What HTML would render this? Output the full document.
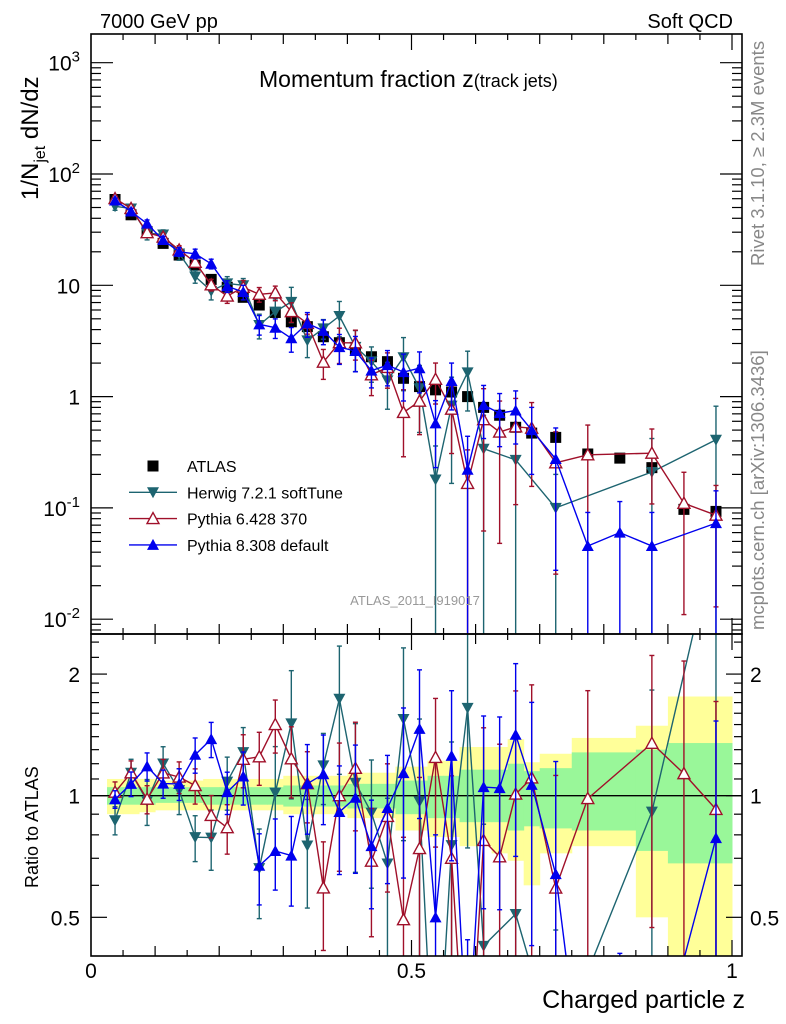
<!DOCTYPE html>
<html><head><meta charset="utf-8">
<style>
html,body{margin:0;padding:0;background:#fff;overflow:hidden;width:786px;height:1024px;}
svg{display:block;font-family:"Liberation Sans",sans-serif;overflow:hidden;}
</style></head>
<body>
<svg id="chart" width="786" height="1024" viewBox="0 0 786 1024" xmlns="http://www.w3.org/2000/svg">
<defs>
<clipPath id="clipMain"><rect x="91" y="34" width="651" height="600"/></clipPath>
<clipPath id="clipRatio"><rect x="91" y="634" width="651" height="322"/></clipPath>
</defs>
<g id="bands" clip-path="url(#clipRatio)"></g>
<g id="marks"></g>
<g id="axes"></g>
<text x="100" y="28" font-size="20">7000 GeV pp</text>
<text x="733" y="28" font-size="20" text-anchor="end">Soft QCD</text>
<text x="259" y="87" font-size="23">Momentum fraction z<tspan font-size="18">(track jets)</tspan></text>
<text transform="translate(38,200) rotate(-90)" font-size="24">1/N<tspan font-size="16" dy="7">jet</tspan><tspan dy="-7"> dN/dz</tspan></text>
<text transform="translate(38,888) rotate(-90)" font-size="18">Ratio to ATLAS</text>
<text x="745" y="1008" font-size="25" text-anchor="end">Charged particle z</text>
<text transform="translate(764,266) rotate(-90)" font-size="18.5" fill="#888">Rivet 3.1.10, ≥ 2.3M events</text>
<text transform="translate(764,630) rotate(-90)" font-size="18.5" fill="#888">mcplots.cern.ch [arXiv:1306.3436]</text>
<text x="415" y="605" font-size="13" fill="#999" text-anchor="middle">ATLAS_2011_I919017</text>
<g id="legend"></g>
</svg>
<script>
// ---- data ----
const binCenters = [0.0375,0.0625,0.0875,0.1125,0.1375,0.1625,0.1875,0.2125,0.2375,0.2625,0.2875,0.3125,0.3375,0.3625,0.3875,0.4125,0.4375,0.4625,0.4875,0.5125,0.5375,0.5625,0.5875,0.6125,0.6375,0.6625,0.6875,0.725,0.775,0.825,0.875,0.925,0.975];
const binLow = [0.025,0.05,0.075,0.1,0.125,0.15,0.175,0.2,0.225,0.25,0.275,0.3,0.325,0.35,0.375,0.4,0.425,0.45,0.475,0.5,0.525,0.55,0.575,0.6,0.625,0.65,0.675,0.7,0.75,0.8,0.85,0.9,0.95];
const binHigh = [0.05,0.075,0.1,0.125,0.15,0.175,0.2,0.225,0.25,0.275,0.3,0.325,0.35,0.375,0.4,0.425,0.45,0.475,0.5,0.525,0.55,0.575,0.6,0.625,0.65,0.675,0.7,0.75,0.8,0.85,0.9,0.95,1.0];
const atlasValues = [59,43,30.3,23.8,18.7,15.2,11.3,9.6,7.8,6.65,5.7,4.7,4.25,3.45,3.05,2.6,2.28,2.06,1.46,1.23,1.15,1.1,1.0,0.80,0.68,0.53,0.47,0.43,0.305,0.28,0.23,0.097,0.093];
const atlasTotUp = [1.10,1.10,1.10,1.09,1.09,1.09,1.10,1.10,1.10,1.10,1.10,1.12,1.12,1.12,1.12,1.14,1.14,1.14,1.18,1.18,1.22,1.22,1.32,1.32,1.32,1.38,1.21,1.27,1.39,1.39,1.49,1.76,1.76];
const atlasTotDown = [0.90,0.90,0.91,0.92,0.92,0.92,0.92,0.92,0.92,0.92,0.92,0.90,0.90,0.90,0.90,0.88,0.88,0.88,0.82,0.82,0.79,0.79,0.75,0.75,0.72,0.69,0.60,0.72,0.75,0.75,0.50,0.30,0.30];
const atlasStatUp = [1.05,1.05,1.05,1.05,1.05,1.05,1.05,1.05,1.05,1.05,1.05,1.06,1.06,1.06,1.06,1.07,1.07,1.07,1.09,1.09,1.12,1.12,1.16,1.16,1.16,1.20,1.15,1.17,1.28,1.28,1.30,1.35,1.35];
const atlasStatDown = [0.95,0.95,0.95,0.96,0.96,0.96,0.95,0.95,0.95,0.95,0.95,0.94,0.94,0.94,0.94,0.93,0.93,0.93,0.90,0.90,0.88,0.88,0.86,0.86,0.86,0.82,0.84,0.83,0.82,0.82,0.73,0.68,0.68];
const herwigValues = [51.3,49,29.4,28.6,19.3,12.0,8.9,10.4,10.0,4.4,5.8,7.1,3.2,4.1,5.3,2.8,2.07,1.4,2.26,1.19,0.18,0.83,1.65,0.34,null,0.27,null,0.10,null,null,0.21,null,0.41];
const herwigRelErr = [0.08,0.08,0.13,0.1,0.13,0.13,0.17,0.15,0.15,0.25,0.3,0.35,0.3,0.2,0.35,0.4,0.35,0.45,0.5,0.6,1.0,0.8,0.55,1.0,1.0,1.0,1.0,1.0,1.0,1.0,1.0,1.0,1.0];
const py6Values = [60.2,49,29.7,27.1,20.8,16.1,10.1,8.0,9.6,8.3,8.55,5.8,4.55,2.04,3.05,3.04,1.57,1.83,0.72,0.91,1.43,0.77,0.166,0.62,0.48,0.535,0.52,0.254,0.30,null,0.31,0.11,0.086];
const py6RelErr = [0.06,0.07,0.08,0.08,0.09,0.1,0.12,0.14,0.15,0.15,0.15,0.2,0.2,0.3,0.35,0.3,0.35,0.35,0.6,0.5,0.4,0.6,1.0,0.9,0.9,0.8,0.7,0.9,0.85,0.85,0.65,0.9,0.85];
const py8Values = [57.8,46,35.8,25.5,20,19.2,15.6,9.8,8.7,4.46,4.16,3.34,4.55,3.9,2.78,2.57,1.71,1.92,1.66,1.8,0.575,1.38,0.22,0.84,0.71,0.75,0.5,0.275,0.0455,0.06,0.0455,null,0.073];
const py8RelErr = [0.05,0.07,0.08,0.08,0.09,0.1,0.1,0.12,0.15,0.2,0.2,0.25,0.25,0.25,0.3,0.35,0.3,0.35,0.45,0.4,0.6,0.45,1,0.5,0.5,0.5,0.6,0.9,1,0.9,1,1,0.95];
const mainTickLabels = ["10^-2","10^-1","1","10","10^2","10^3"];
const ratioTickLabels = ["0.5","1","2"];
const xTickLabels = ["0","0.5","1"];

// ---- axes functions ----
const X0=91, XS=641;
const xs = z => X0 + z*XS;
const ym = v => 396.6 - Math.log10(v)*111.3;
const yr = r => 795.7 - Math.log10(r)*404;
const NS="http://www.w3.org/2000/svg";
function mk(tag, attrs, parent){const e=document.createElementNS(NS,tag);for(const k in attrs)e.setAttribute(k,attrs[k]);parent.appendChild(e);return e;}

const bands=document.getElementById('bands');
const marks=document.getElementById('marks');
const axes=document.getElementById('axes');

binCenters.forEach((c,i)=>{
  const top=Math.max(yr(atlasTotUp[i]),634), bot=Math.min(yr(atlasTotDown[i]),956);
  const y=mk('rect',{x:xs(binLow[i]),y:top,width:xs(binHigh[i])-xs(binLow[i])+0.5,height:bot-top,fill:'#ffff99'},bands);
  
  
});
binCenters.forEach((c,i)=>{
  const top=Math.max(yr(atlasStatUp[i]),634), bot=Math.min(yr(atlasStatDown[i]),956);
  const g=mk('rect',{x:xs(binLow[i]),y:top,width:xs(binHigh[i])-xs(binLow[i])+0.5,height:bot-top,fill:'#99f799'},bands);
  
  
});
const one=mk('line',{x1:91,x2:742,y1:yr(1),y2:yr(1),stroke:'#000','stroke-width':1.3},bands);



function marker(parent,type,x,y,color){
  let e;
  if(type==='square'){e=mk('rect',{x:x-5.5,y:y-5.5,width:11,height:11,fill:'#000'},parent);}
  else if(type==='down'){e=mk('polygon',{points:`${x-6},${y-5} ${x+6},${y-5} ${x},${y+6}`,fill:color},parent);}
  else if(type==='up'){e=mk('polygon',{points:`${x-6},${y+5} ${x+6},${y+5} ${x},${y-6}`,fill:color},parent);}
  else {e=mk('polygon',{points:`${x-6},${y+5} ${x+6},${y+5} ${x},${y-6}`,fill:'#fff',stroke:color,'stroke-width':1.4},parent);}
  return e;
}

// clip a segment to y range [ya,yb]
function clipSeg(p,q,ya,yb){
  let [x1,y1]=p,[x2,y2]=q;
  let t0=0,t1=1;const dy=y2-y1;
  if(dy===0){ if(y1<ya||y1>yb) return null; }
  else{
    let ta=(ya-y1)/dy, tb=(yb-y1)/dy;
    let tmin=Math.min(ta,tb), tmax=Math.max(ta,tb);
    t0=Math.max(t0,tmin); t1=Math.min(t1,tmax);
    if(t0>t1) return null;
  }
  return [[x1+(x2-x1)*t0,y1+dy*t0],[x1+(x2-x1)*t1,y1+dy*t1]];
}

const series=[
  {name:'herwig',vals:herwigValues,err:herwigRelErr,color:'#1d6470',type:'down'},
  {name:'pythia6',vals:py6Values,err:py6RelErr,color:'#a0102a',type:'open'},
  {name:'pythia8',vals:py8Values,err:py8RelErr,color:'#0000ee',type:'up'}
];

function drawPanel(clip, yfun, transform, panel, ya, yb){
  const g=mk('g',{'clip-path':`url(#${clip})`},marks);
  
  
  if(panel==='main'){
    atlasValues.forEach((v,i)=>{
      const m=marker(g,'square',xs(binCenters[i]),yfun(v));
      
      
    });
  }
  series.forEach(s=>{
    let pts=[];
    s.vals.forEach((v,i)=>{ if(v!==null){ pts.push([xs(binCenters[i]),yfun(transform(v,i))]); } });
    let d='';
    for(let j=0;j<pts.length-1;j++){
      const c=clipSeg(pts[j],pts[j+1],ya,yb);
      if(c) d+=`M${c[0][0].toFixed(1)},${c[0][1].toFixed(1)}L${c[1][0].toFixed(1)},${c[1][1].toFixed(1)}`;
    }
    const pl=mk('path',{d:d,fill:'none',stroke:s.color,'stroke-width':1.4},g);
    
    
    s.vals.forEach((v,i)=>{
      if(v===null)return;
      const x=xs(binCenters[i]);
      const tv=transform(v,i);
      const hi=tv*(1+s.err[i]);
      const lo=tv*(1-s.err[i]);
      const yhRaw=yfun(hi), ylRaw= lo>0? yfun(lo) : yb+10;
      const yh=Math.max(yhRaw,ya), yl=Math.min(ylRaw,yb);
      if(yh<yl){
        const eb=mk('line',{x1:x,x2:x,y1:yh,y2:yl,stroke:s.color,'stroke-width':1.4},g);
        
        
      }
      if(yhRaw>=ya && yhRaw<=yb) mk('line',{x1:x-2.5,x2:x+2.5,y1:yhRaw,y2:yhRaw,stroke:s.color,'stroke-width':1.4},g);
      if(lo>0 && ylRaw>=ya && ylRaw<=yb) mk('line',{x1:x-2.5,x2:x+2.5,y1:ylRaw,y2:ylRaw,stroke:s.color,'stroke-width':1.4},g);
      const ym0=yfun(tv);
      if(ym0>=ya-8 && ym0<=yb+8){
        const m=marker(g,s.type,x,ym0,s.color);
        
        
      }
    });
  });
}
drawPanel('clipMain',ym,(v)=>v,'main',34,634);
drawPanel('clipRatio',yr,(v,i)=>v/atlasValues[i],'ratio',634,956);

const f1=mk('rect',{x:91,y:34,width:651,height:600,fill:'none',stroke:'#000','stroke-width':1.6},axes);


const f2=mk('rect',{x:91,y:634,width:651,height:322,fill:'none',stroke:'#000','stroke-width':1.6},axes);



function tick(x1,y1,x2,y2){mk('line',{x1,y1,x2,y2,stroke:'#000','stroke-width':1.2},axes);}
for(let k=1;k<=20;k++){
  const z=k*0.05, x=xs(z);
  const len = (k%10===0)?16:(k%2===0?10:6);
  tick(x,34,x,34+len); tick(x,634,x,634-len); tick(x,634,x,634+len); tick(x,956,x,956-len);
}
for(let d=-3;d<=3;d++){
  for(let m=1;m<=9;m++){
    const v=m*Math.pow(10,d), y=ym(v);
    if(y<34||y>634)continue;
    const len=m===1?22:10;
    tick(91,y,91+len,y); tick(742,y,742-len,y);
  }
}
mainTickLabels.forEach((t,i)=>{
  const y=ym(Math.pow(10,i-2));
  const tx=mk('text',{x:80,y:y+8,'font-size':21,'text-anchor':'end'},axes);
  
  
  const parts=t.split('^');
  if(parts.length===1){tx.textContent=t;}
  else{tx.textContent=parts[0];const ts=mk('tspan',{dy:-9,'font-size':15},tx);ts.textContent=parts[1];}
});
[0.5,1,2].forEach(r=>{const y=yr(r);tick(91,y,107,y);tick(742,y,726,y);});
[0.6,0.7,0.8,0.9,1.1,1.2,1.3,1.4,1.5,1.6,1.7,1.8,1.9,2.2,2.4].forEach(r=>{const y=yr(r);tick(91,y,99,y);tick(742,y,734,y);});
ratioTickLabels.forEach(t=>{
  const y=yr(parseFloat(t))+8;
  const a=mk('text',{x:80,y,'font-size':21,'text-anchor':'end'},axes);a.textContent=t;
  
  
  const b=mk('text',{x:750,y,'font-size':21},axes);b.textContent=t;
  
  
});
xTickLabels.forEach(t=>{
  const a=mk('text',{x:xs(parseFloat(t)),y:978,'font-size':21,'text-anchor':'middle'},axes);a.textContent=t;
  
  
});

const leg=document.getElementById('legend');
const legItems=[{label:'ATLAS',type:'square',color:'#000'},{label:'Herwig 7.2.1 softTune',type:'down',color:'#1d6470'},{label:'Pythia 6.428 370',type:'open',color:'#a0102a'},{label:'Pythia 8.308 default',type:'up',color:'#0000ee'}];
legItems.forEach((it,i)=>{
  const y=466+i*26.3;
  const g=mk('g',{},leg);
  
  
  if(it.type!=='square') mk('line',{x1:129,x2:177,y1:y,y2:y,stroke:it.color,'stroke-width':1.4},g);
  marker(g,it.type,153,y,it.color);
  const t=mk('text',{x:187,y:y+6,'font-size':16},g);t.textContent=it.label;
});
</script>
</body></html>
